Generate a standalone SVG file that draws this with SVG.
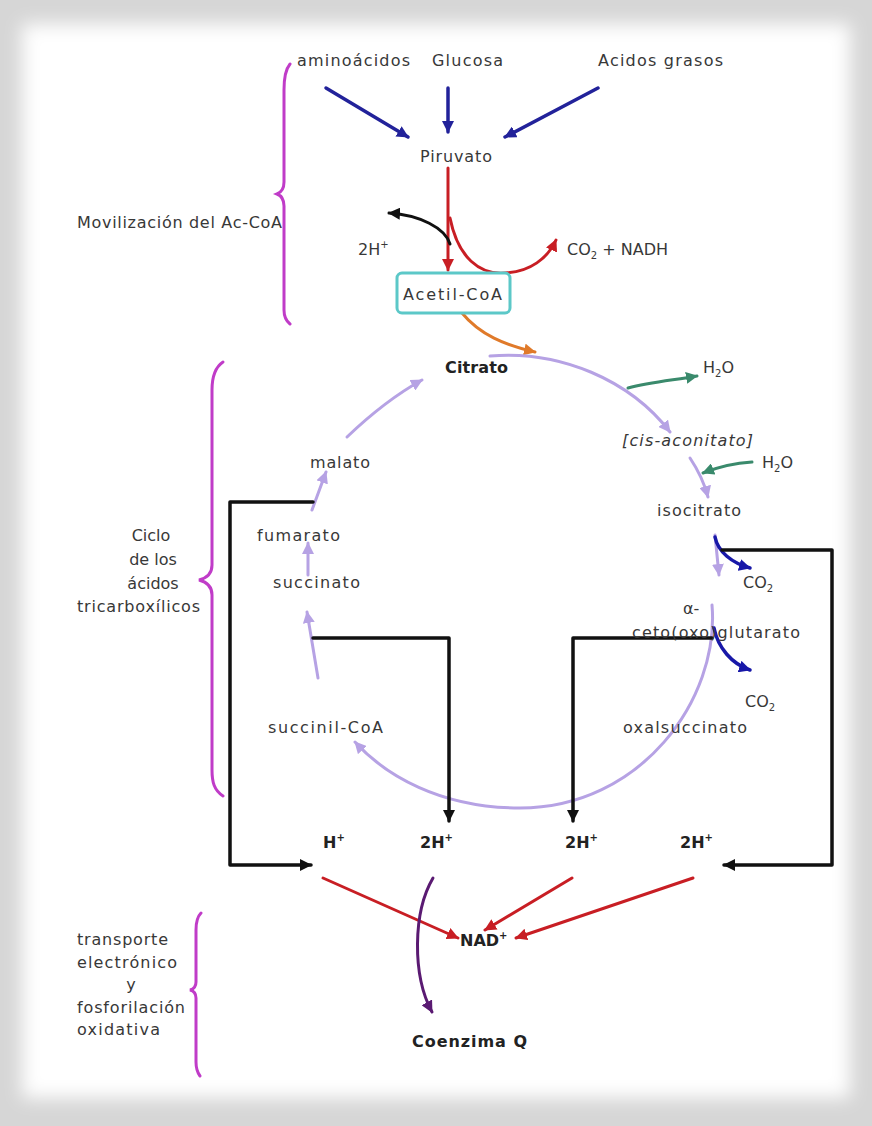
<svg xmlns="http://www.w3.org/2000/svg" width="872" height="1126" viewBox="0 0 872 1126">
<defs>
<filter id="blur" x="-5%" y="-5%" width="110%" height="110%"><feGaussianBlur stdDeviation="9"/></filter>
<marker id="aBlue" markerUnits="userSpaceOnUse" markerWidth="14" markerHeight="12" refX="11" refY="6" orient="auto"><path d="M0,0 L12,6 L0,12 Z" fill="#22229a"/></marker>
<marker id="aRed" markerUnits="userSpaceOnUse" markerWidth="14" markerHeight="12" refX="11" refY="6" orient="auto"><path d="M0,0 L12,6 L0,12 Z" fill="#c81e24"/></marker>
<marker id="aBlack" markerUnits="userSpaceOnUse" markerWidth="14" markerHeight="12" refX="11" refY="6" orient="auto"><path d="M0,0 L12,6 L0,12 Z" fill="#111"/></marker>
<marker id="aOrange" markerUnits="userSpaceOnUse" markerWidth="14" markerHeight="12" refX="11" refY="6" orient="auto"><path d="M0,0 L12,6 L0,12 Z" fill="#e07a2a"/></marker>
<marker id="aLav" markerUnits="userSpaceOnUse" markerWidth="14" markerHeight="12" refX="11" refY="6" orient="auto"><path d="M0,0 L12,6 L0,12 Z" fill="#b6a2e4"/></marker>
<marker id="aGreen" markerUnits="userSpaceOnUse" markerWidth="14" markerHeight="12" refX="11" refY="6" orient="auto"><path d="M0,0 L12,6 L0,12 Z" fill="#3a8a6c"/></marker>
<marker id="aBlue2" markerUnits="userSpaceOnUse" markerWidth="14" markerHeight="12" refX="11" refY="6" orient="auto"><path d="M0,0 L12,6 L0,12 Z" fill="#1818a8"/></marker>
<marker id="aPurple" markerUnits="userSpaceOnUse" markerWidth="14" markerHeight="12" refX="11" refY="6" orient="auto"><path d="M0,0 L12,6 L0,12 Z" fill="#5a1a72"/></marker>
</defs>
<style>
text{font-family:"DejaVu Sans","Liberation Sans",sans-serif;font-size:16px;fill:#383838}
.b{font-weight:bold;fill:#222}
.it{font-style:italic}
.c{fill:none;stroke-linecap:round;stroke-linejoin:round}
.blue{stroke:#22229a;stroke-width:3.5;marker-end:url(#aBlue)}
.red{stroke:#c81e24;stroke-width:3;marker-end:url(#aRed)}
.blk{stroke:#111;stroke-width:3.5;marker-end:url(#aBlack)}
.blkc{stroke:#111;stroke-width:3;marker-end:url(#aBlack)}
.org{stroke:#e07a2a;stroke-width:3;marker-end:url(#aOrange)}
.lav{stroke:#b6a2e4;stroke-width:3;marker-end:url(#aLav)}
.grn{stroke:#3a8a6c;stroke-width:3;marker-end:url(#aGreen)}
.blu2{stroke:#1818a8;stroke-width:3.5;marker-end:url(#aBlue2)}
.pur{stroke:#5a1a72;stroke-width:3;marker-end:url(#aPurple)}
.brace{fill:none;stroke:#c03cc8;stroke-width:3;stroke-linecap:round}
</style>
<rect x="0" y="0" width="872" height="1126" fill="#d6d6d6"/>
<rect x="22" y="24" width="828" height="1074" fill="#ffffff" filter="url(#blur)"/>

<g id="braces">
<path class="brace" d="M290,64 C285,70 284,80 284,90 L284,182 C284,188 282,192 277,194 C282,196 284,200 284,206 L284,310 C284,316 285,320 290,324"/>
<path class="brace" d="M223,362 C214,368 212,378 212,390 L212,565 C212,573 207,578 199,580 C207,582 212,587 212,595 L212,770 C212,782 214,790 223,796"/>
<path class="brace" d="M201,913 C197,917 196,922 196,930 L196,982 C196,986 194,989 190,990 C194,991 196,994 196,998 L196,1062 C196,1068 197,1072 200,1076"/>
</g>

<g id="connectors">
<path class="c blue" d="M326,88 L408,137"/>
<path class="c blue" d="M448,88 L448,132"/>
<path class="c blue" d="M598,88 L505,137"/>
<path class="c red" d="M448,168 L448,270"/>
<path class="c red" d="M450,218 C458,258 480,275 505,273 C530,272 548,258 556,240"/>
<path class="c blkc" d="M450,244 C445,228 420,215 389,213"/>
<path class="c org" d="M462,313 C480,335 505,345 535,352"/>
<path class="c lav" d="M490,356 C560,350 630,380 670,432"/>
<path class="c lav" d="M690,458 C698,470 704,482 708,497"/>
<path class="c lav" d="M715,535 L719,575"/>
<path class="c lav" d="M712,605 C720,700 640,808 520,808 C440,808 385,775 355,742"/>
<path class="c lav" d="M318,678 L307,612"/>
<path class="c lav" d="M308,575 L308,543"/>
<path class="c lav" d="M312,510 L326,472"/>
<path class="c lav" d="M347,437 C370,415 395,395 422,380"/>
<path class="c grn" d="M628,388 C650,382 675,380 697,376"/>
<path class="c grn" d="M752,462 C735,463 718,467 703,473"/>
<path class="c blu2" d="M715,537 C718,552 732,563 750,568"/>
<path class="c blu2" d="M714,628 C718,648 732,664 750,670"/>
<path class="c blk" d="M722,550 H832 V865 H724"/>
<path class="c blk" d="M712,638 H573 V821"/>
<path class="c blk" d="M313,638 H449 V821"/>
<path class="c blk" d="M313,502 H230 V865 H311"/>
<path class="c red" d="M323,878 L458,938"/>
<path class="c red" d="M572,878 L485,930"/>
<path class="c red" d="M693,878 L516,938"/>
<path class="c pur" d="M433,878 C413,912 412,975 432,1012"/>
</g>

<g id="n-aminoacidos"><text x="297" y="66" textLength="113">aminoácidos</text></g>
<g id="n-glucosa"><text x="432" y="66" textLength="71">Glucosa</text></g>
<g id="n-acidos"><text x="598" y="66" textLength="125">Acidos grasos</text></g>
<g id="n-piruvato"><text x="420" y="162" textLength="72">Piruvato</text></g>
<g id="n-2h-top"><text x="358" y="255">2H<tspan font-size="10" dy="-7">+</tspan></text></g>
<g id="n-co2nadh"><text x="567" y="255">CO<tspan font-size="10" dy="4">2</tspan><tspan dy="-4"> + NADH</tspan></text></g>
<g id="n-acetil"><rect x="397" y="273" width="113" height="40" rx="5" fill="#fff" stroke="#5cc8c8" stroke-width="3"/><text x="403" y="300" textLength="99">Acetil-CoA</text></g>
<g id="n-citrato"><text class="b" x="445" y="373" textLength="63">Citrato</text></g>
<g id="n-h2o-1"><text x="703" y="373">H<tspan font-size="10" dy="4">2</tspan><tspan dy="-4">O</tspan></text></g>
<g id="n-cis"><text class="it" x="622" y="446" textLength="131">[cis-aconitato]</text></g>
<g id="n-h2o-2"><text x="762" y="468">H<tspan font-size="10" dy="4">2</tspan><tspan dy="-4">O</tspan></text></g>
<g id="n-isocitrato"><text x="657" y="516" textLength="84">isocitrato</text></g>
<g id="n-co2-1"><text x="743" y="588">CO<tspan font-size="10" dy="4">2</tspan></text></g>
<g id="n-alfa"><text x="683" y="614" font-size="13">α-</text><text x="632" y="638" textLength="168">ceto(oxo)glutarato</text></g>
<g id="n-co2-2"><text x="745" y="707">CO<tspan font-size="10" dy="4">2</tspan></text></g>
<g id="n-oxalsuccinato"><text x="623" y="733" textLength="124">oxalsuccinato</text></g>
<g id="n-malato"><text x="310" y="468" textLength="60">malato</text></g>
<g id="n-fumarato"><text x="257" y="541" textLength="83">fumarato</text></g>
<g id="n-succinato"><text x="273" y="588" textLength="87">succinato</text></g>
<g id="n-succinilcoa"><text x="268" y="733" textLength="115">succinil-CoA</text></g>
<g id="n-h1"><text class="b" x="323" y="848">H<tspan font-size="10" dy="-7">+</tspan></text></g>
<g id="n-h2"><text class="b" x="420" y="848">2H<tspan font-size="10" dy="-7">+</tspan></text></g>
<g id="n-h3"><text class="b" x="565" y="848">2H<tspan font-size="10" dy="-7">+</tspan></text></g>
<g id="n-h4"><text class="b" x="680" y="848">2H<tspan font-size="10" dy="-7">+</tspan></text></g>
<g id="n-nad"><text class="b" x="460" y="946">NAD<tspan font-size="10" dy="-7">+</tspan></text></g>
<g id="n-coq"><text class="b" x="412" y="1047" textLength="115">Coenzima Q</text></g>
<g id="l-movil"><text x="77" y="228" textLength="205">Movilización del Ac-CoA</text></g>
<g id="l-ciclo"><text text-anchor="middle" x="151" y="541">Ciclo</text><text text-anchor="middle" x="153" y="565">de los</text><text text-anchor="middle" x="153" y="589">ácidos</text><text x="77" y="612" textLength="123">tricarboxílicos</text></g>
<g id="l-transporte"><text x="77" y="945" textLength="91">transporte</text><text x="77" y="968" textLength="100">electrónico</text><text x="131" y="990" text-anchor="middle">y</text><text x="77" y="1013" textLength="108">fosforilación</text><text x="77" y="1035" textLength="83">oxidativa</text></g>
</svg>
